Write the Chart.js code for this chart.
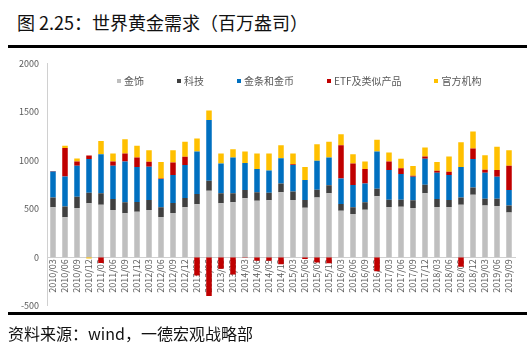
<!DOCTYPE html>
<html>
<head>
<meta charset="utf-8">
<script src="https://cdn.jsdelivr.net/npm/chart.js@4"></script>
<style>
    body { margin: 0; background: white; font-family: "Noto Sans CJK SC", sans-serif; }
    #wrap { position: relative; width: 531px; height: 346px; overflow: hidden; }
    #title { position: absolute; left: 17px; top: 9px; font-size: 18px; color: #111; white-space: nowrap; }
    .rule { position: absolute; left: 8px; width: 519px; background: #000; }
    #chartBox { position: absolute; left: 0; top: 50px; width: 531px; height: 269px; }
    #legend { position: absolute; left: 117px; top: 73px; display: flex; font-size: 10px; color: #595959; white-space: nowrap; }
    #legend span.item { display: flex; align-items: center; margin-right: 33px; }
    #legend i { display: inline-block; width: 4px; height: 4px; margin-right: 3px; }
    #source { position: absolute; left: 8px; top: 321px; font-size: 16px; color: #111; white-space: nowrap; }
</style>
</head>
<body>
<div id="wrap">
    <div id="title">图 2.25：世界黄金需求（百万盎司）</div>
    <div class="rule" style="top:45px;height:3px"></div>
    <div id="chartBox"><canvas id="goldChart" width="531" height="269"></canvas></div>
    <div id="legend"></div>
    <div class="rule" style="top:312px;height:3px"></div>
    <div id="source">资料来源：wind，一德宏观战略部</div>
</div>
<script>
// 季度
const quarters = [
    '2010/03', '2010/06', '2010/09', '2010/12',
    '2011/03', '2011/06', '2011/09', '2011/12',
    '2012/03', '2012/06', '2012/09', '2012/12',
    '2013/03', '2013/06', '2013/09', '2013/12',
    '2014/03', '2014/06', '2014/09', '2014/12',
    '2015/03', '2015/06', '2015/09', '2015/12',
    '2016/03', '2016/06', '2016/09', '2016/12',
    '2017/03', '2017/06', '2017/09', '2017/12',
    '2018/03', '2018/06', '2018/09', '2018/12',
    '2019/03', '2019/06', '2019/09'
]

const seriesNames = ['金饰', '科技', '金条和金币', 'ETF及类似产品', '官方机构']
const seriesColors = ['#bfbfbf', '#404040', '#0070c0', '#c00000', '#ffc000']

const jewelry = [515, 412, 508, 556, 542, 487, 453, 470, 487, 415, 456, 515, 545, 686, 556, 566, 607, 583, 587, 669,
    590, 511, 617, 659, 480, 446, 490, 628, 518, 521, 508, 659, 518, 518, 542, 645, 532, 528, 460]
const technology = [100, 110, 116, 109, 117, 113, 113, 99, 103, 100, 103, 96, 107, 103, 103, 93, 86, 86, 78, 92,
    89, 79, 79, 82, 69, 69, 76, 79, 75, 72, 79, 89, 82, 72, 75, 75, 72, 76, 72]
const barsCoins = [270, 310, 319, 347, 404, 343, 422, 361, 343, 291, 288, 339, 439, 628, 308, 370, 278, 240, 230, 261,
    271, 206, 299, 288, 264, 229, 195, 384, 306, 265, 243, 267, 271, 257, 313, 292, 267, 226, 161]
const etf = [5, 295, 45, 38, -60, 45, 82, 99, 51, 5, 131, 86, -190, -400, -120, -180, -5, -38, -38, -72,
    10, -20, -55, -62, 343, 223, 148, -145, 89, 61, 10, 24, 21, 34, -100, 110, 31, 69, 250]
const centralBanks = [0, 24, 31, -14, 137, 82, 148, 120, 120, 172, 126, 154, 134, 96, 103, 86, 120, 161, 175, 134,
    110, 134, 171, 161, 113, 96, 79, 120, 92, 96, 100, 93, 89, 158, 257, 175, 151, 240, 161]

const yTicks = [-500, 0, 500, 1000, 1500, 2000]

const seriesData = [jewelry, technology, barsCoins, etf, centralBanks]

const datasets = seriesNames.map((name, i) => ({
    label: name,
    data: seriesData[i],
    backgroundColor: seriesColors[i],
    borderWidth: 0,
    categoryPercentage: 1,
    barPercentage: 0.46
}))

// 图例 (放在绘图区里面)
const legend = document.getElementById('legend')
seriesNames.forEach((name, i) => {
    const item = document.createElement('span')
    item.className = 'item'
    item.innerHTML = '<i style="background:' + seriesColors[i] + '"></i>' + name
    legend.appendChild(item)
})

const tickFont = { family: '"Noto Sans CJK SC", "Liberation Sans", sans-serif', size: 9 }

var goldChart = new Chart(
    document.getElementById('goldChart'),
    {
        type: 'bar',
        data: {
            labels: quarters,
            datasets: datasets
        },
        options: {
            responsive: false,
            animation: false,
            layout: {
                padding: { top: 8, bottom: 1, left: 0, right: 16 }
            },
            plugins: {
                legend: { display: false },
                tooltip: { enabled: false }
            },
            scales: {
                x: {
                    stacked: true,
                    position: { y: 0 },
                    grid: { display: false, drawTicks: false },
                    border: { display: true, color: '#d0d0d0', width: 1 },
                    ticks: {
                        color: '#595959',
                        font: tickFont,
                        minRotation: 90,
                        maxRotation: 90,
                        autoSkip: false,
                        padding: 2
                    }
                },
                y: {
                    stacked: true,
                    min: -500,
                    max: 2000,
                    afterFit: function (scale) {
                        scale.width = 47
                    },
                    afterBuildTicks: function (scale) {
                        scale.ticks = yTicks.map(v => ({ value: v }))
                    },
                    grid: { display: false, drawTicks: false },
                    border: { display: true, color: '#d0d0d0', width: 1 },
                    ticks: {
                        color: '#595959',
                        font: tickFont,
                        padding: 8,
                        callback: function (value) {
                            return String(value)   // 不要千分位逗号
                        }
                    }
                }
            }
        }
    }
);
</script>
</body>
</html>
